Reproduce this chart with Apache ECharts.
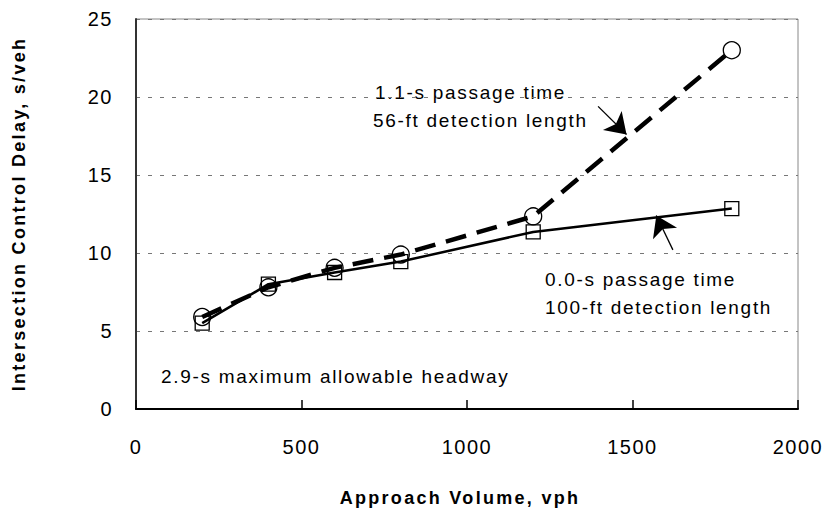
<!doctype html>
<html>
<head>
<meta charset="utf-8">
<title>Intersection Control Delay</title>
<script src="https://cdn.jsdelivr.net/npm/echarts@6/dist/echarts.min.js"></script>
<style>
  html, body { margin: 0; padding: 0; background: #fff; }
  #chart { width: 828px; height: 529px; }
  /* the original has loosely spaced text */
  #chart svg text { letter-spacing: 1.7px; }
  #chart svg text[style*="20px"] { letter-spacing: 1.5px; }
  #chart svg text[style*="bold"] { letter-spacing: 2.3px; }
</style>
</head>
<body>
<div id="chart"></div>
<script>
// approach volume (vph)
var volumes = [200, 400, 600, 800, 1200, 1800];
// 0.0-s passage time, 100-ft detection length
var delayShort = [5.5, 8.0, 8.75, 9.45, 11.35, 12.85];
// 1.1-s passage time, 56-ft detection length
var delayLong = [5.9, 7.8, 9.05, 9.9, 12.35, 23.0];
// arrows: [fromX, fromY, toX, toY] in data units
var arrowLong = [1396, 19.4, 1482, 17.6];
var arrowShort = [1622, 10.2, 1572, 12.4];

var chart = echarts.init(document.getElementById('chart'), null, { renderer: 'svg' });

function pairs(xs, ys) {
  var out = [];
  for (var i = 0; i < xs.length; i++) out.push([xs[i], ys[i]]);
  return out;
}

function arrowLine(a) {
  return [[{ coord: [a[0], a[1]] }, { coord: [a[2], a[3]] }]];
}

var font = 'Liberation Sans, Arial, sans-serif';

function note(text, x, y) {
  return {
    type: 'text',
    left: x,
    top: y,
    style: {
      text: text,
      font: '19px ' + font,
      fill: '#000',
      textVerticalAlign: 'middle'
    }
  };
}

chart.setOption({
  animation: false,
  grid: {
    left: 136,
    right: 30,
    top: 19,
    bottom: 120,
    show: true,
    borderColor: '#888',
    borderWidth: 1
  },
  xAxis: {
    type: 'value',
    min: 0,
    max: 2000,
    interval: 500,
    name: 'Approach Volume, vph',
    nameLocation: 'middle',
    nameGap: 80,
    nameTextStyle: {
      fontFamily: font, fontSize: 18, fontWeight: 'bold', color: '#000',
      padding: [0, 14, 0, 0]
    },
    axisLine: { show: true, lineStyle: { color: '#000', width: 2 } },
    axisTick: { show: true, inside: true, length: 9, lineStyle: { color: '#000', width: 1.5 } },
    axisLabel: {
      fontFamily: font, fontSize: 20, color: '#000', margin: 28,
      formatter: function (v) { return String(v); }
    },
    splitLine: { show: false }
  },
  yAxis: {
    type: 'value',
    min: 0,
    max: 25,
    interval: 5,
    name: 'Intersection Control Delay, s/veh',
    nameLocation: 'middle',
    nameGap: 108,
    nameTextStyle: { fontFamily: font, fontSize: 18, fontWeight: 'bold', color: '#000' },
    axisLine: { show: true, lineStyle: { color: '#333', width: 2 } },
    axisTick: { show: false },
    axisLabel: { fontFamily: font, fontSize: 20, color: '#000', margin: 23 },
    splitLine: { show: true, lineStyle: { color: '#777', width: 1, type: [4, 8] } }
  },
  series: [{
    name: '0.0-s passage time',
    type: 'line',
    data: pairs(volumes, delayShort),
    symbol: 'rect',
    symbolSize: 14,
    lineStyle: { color: '#000', width: 2.5 },
    itemStyle: { color: 'rgba(0,0,0,0)', borderColor: '#000', borderWidth: 1.3 },
    markLine: {
      silent: true,
      symbol: ['none', 'arrow'],
      symbolSize: 20,
      label: { show: false },
      lineStyle: { color: '#000', width: 1.3, type: 'solid' },
      data: arrowLine(arrowShort)
    }
  }, {
    name: '1.1-s passage time',
    type: 'line',
    data: pairs(volumes, delayLong),
    symbol: 'circle',
    symbolSize: 17,
    lineStyle: { color: '#000', width: 4.5, type: [21, 11] },
    itemStyle: { color: 'rgba(0,0,0,0)', borderColor: '#000', borderWidth: 1.3 },
    markLine: {
      silent: true,
      symbol: ['none', 'arrow'],
      symbolSize: 20,
      label: { show: false },
      lineStyle: { color: '#000', width: 1.3, type: 'solid' },
      data: arrowLine(arrowLong)
    }
  }],
  graphic: [
    note('1.1-s passage time', 375, 83),
    note('56-ft detection length', 373, 111),
    note('0.0-s passage time', 545, 270),
    note('100-ft detection length', 545, 298),
    note('2.9-s maximum allowable headway', 161, 367)
  ]
});
</script>
</body>
</html>
